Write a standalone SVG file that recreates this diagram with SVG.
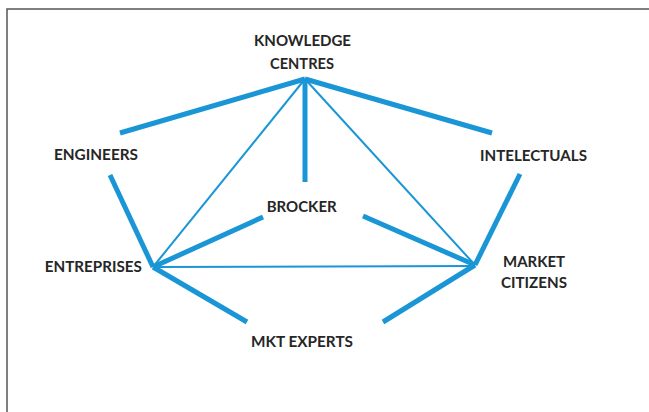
<svg xmlns="http://www.w3.org/2000/svg" width="649" height="412" viewBox="0 0 649 412">
<style>
.lbl{font-family:Lato,"Liberation Sans",sans-serif;font-weight:bold;font-size:16px;fill:#262626;text-anchor:middle}
.thick{stroke:#1a96d6;stroke-width:5;stroke-linecap:butt;fill:none}
.thin{stroke:#1a96d6;stroke-width:2;fill:none}
</style>
<rect width="649" height="412" fill="#ffffff"/>
<path d="M7 412 V9 H649" fill="none" stroke="#555555" stroke-width="1.5"/>
<g id="connectors">
<line class="thick" x1="305" y1="79" x2="120" y2="133"/>
<line class="thick" x1="305" y1="79" x2="492" y2="133"/>
<line class="thick" x1="305" y1="79" x2="305" y2="182"/>
<line class="thin" x1="305" y1="79" x2="153" y2="267"/>
<line class="thin" x1="305" y1="79" x2="475" y2="265"/>
<line class="thin" x1="153" y1="267" x2="475" y2="266"/>
<line class="thick" x1="153" y1="267" x2="110" y2="175"/>
<line class="thick" x1="153" y1="267" x2="263" y2="217"/>
<line class="thick" x1="153" y1="267" x2="247" y2="322"/>
<line class="thick" x1="475" y1="265" x2="520" y2="174"/>
<line class="thick" x1="475" y1="265" x2="363" y2="216"/>
<line class="thick" x1="475" y1="265" x2="383" y2="322"/>
</g>
<g id="knowledge-centres">
<text class="lbl" x="302.5" y="46" textLength="97" lengthAdjust="spacingAndGlyphs">KNOWLEDGE</text>
<text class="lbl" x="302" y="68.5" textLength="64" lengthAdjust="spacingAndGlyphs">CENTRES</text>
</g>
<g id="engineers">
<text class="lbl" x="96" y="159.5" textLength="84" lengthAdjust="spacingAndGlyphs">ENGINEERS</text>
</g>
<g id="intelectuals">
<text class="lbl" x="533.5" y="160.5" textLength="107" lengthAdjust="spacingAndGlyphs">INTELECTUALS</text>
</g>
<g id="brocker">
<text class="lbl" x="301.7" y="212" textLength="70" lengthAdjust="spacingAndGlyphs">BROCKER</text>
</g>
<g id="entreprises">
<text class="lbl" x="93.3" y="271.5" textLength="97" lengthAdjust="spacingAndGlyphs">ENTREPRISES</text>
</g>
<g id="market-citizens">
<text class="lbl" x="534" y="266.5" textLength="62" lengthAdjust="spacingAndGlyphs">MARKET</text>
<text class="lbl" x="534" y="288" textLength="66" lengthAdjust="spacingAndGlyphs">CITIZENS</text>
</g>
<g id="mkt-experts">
<text class="lbl" x="302" y="347" textLength="102" lengthAdjust="spacingAndGlyphs">MKT EXPERTS</text>
</g>
</svg>
